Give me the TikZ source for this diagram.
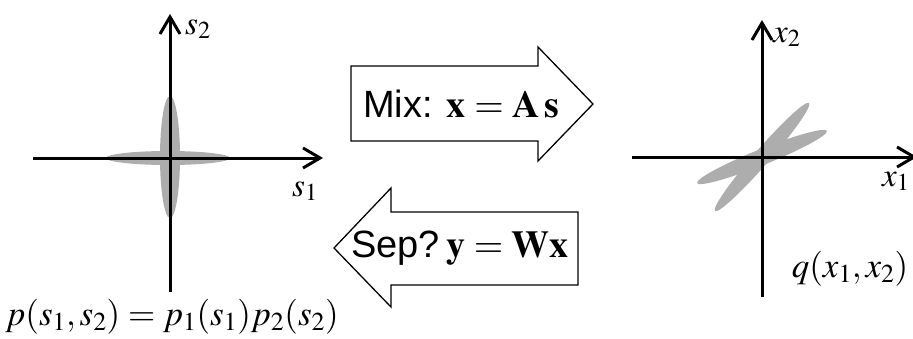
\documentclass[tikz,border=0pt]{standalone}
\usepackage{mathptmx}
\usepackage{fontspec}
\setmainfont{Liberation Serif}
\newfontfamily\arialfont{Liberation Sans}
\usetikzlibrary{arrows.meta}
\tikzset{
  axis/.style={line width=3pt,-{Straight Barb[length=17pt,width=20pt]}},
  cloud/.style={fill=black!32},
  blockarrow/.style={draw=black,line width=1.3pt,fill=white,line join=miter},
  lbl/.style={font=\arialfont\fontsize{38}{44}\selectfont,inner sep=0pt},
  var/.style={font=\fontsize{33}{36}\selectfont,inner sep=0pt,anchor=base west},
  eqn/.style={font=\fontsize{35}{40}\selectfont,inner sep=0pt,anchor=base}}

\begin{document}
\begin{tikzpicture}[x=1pt,y=-1pt]
\useasboundingbox (0,0) rectangle (913,338);
\clip (0,0) rectangle (913,338);
% source densities
\coordinate (so) at (170,158);
\fill[cloud] (170,157) ellipse [x radius=10, y radius=61];
\fill[cloud] (168,158) ellipse [x radius=62, y radius=7];
\coordinate (s1a) at (33,158);
\coordinate (s1b) at (323,158);
\coordinate (s2a) at (170,292);
\coordinate (s2b) at (170,14);
\draw[axis] (s1a) -- (s1b);
\draw[axis] (s2a) -- (s2b);
\node[var] (s2lbl) at (185,34) {$s_2$};
\node[var] (s1lbl) at (292,196) {$s_1$};
\node[eqn] (pjoint) at (172,325) {$p(s_1,s_2)=p_1(s_1)p_2(s_2)$};
% mixed density
\begin{scope}[cm={1.067,0.4,0.75,0.9,(762,157)}]
\fill[cloud] (0,0) ellipse [x radius=60, y radius=14];
\fill[cloud] (0,0) ellipse [x radius=14, y radius=60];
\end{scope}
\coordinate (x1a) at (632,157);
\coordinate (x1b) at (917,157);
\coordinate (x2a) at (762,297);
\coordinate (x2b) at (762,20);
\draw[axis] (x1a) -- (x1b);
\draw[axis] (x2a) -- (x2b);
\node[var] (x2lbl) at (773,42) {$x_2$};
\node[var] (x1lbl) at (882,186) {$x_1$};
\node[eqn] (qjoint) at (850,277) {$q(x_1,x_2)$};
% mixing and separation
\draw[blockarrow] (351,66) -- (538,66) -- (538,47) -- (593,104) -- (538,161) -- (538,141) -- (351,141) -- cycle;
\draw[blockarrow] (578,212) -- (391,212) -- (391,188) -- (334,248) -- (391,307) -- (391,285) -- (578,285) -- cycle;
\node[lbl] (mix) at (461,104) {Mix: $\mathbf{x}=\mathbf{A}\,\mathbf{s}$};
\node[lbl] (sep) at (460,248) {Sep?\,$\mathbf{y}=\mathbf{Wx}$};
\end{tikzpicture}
\end{document}
